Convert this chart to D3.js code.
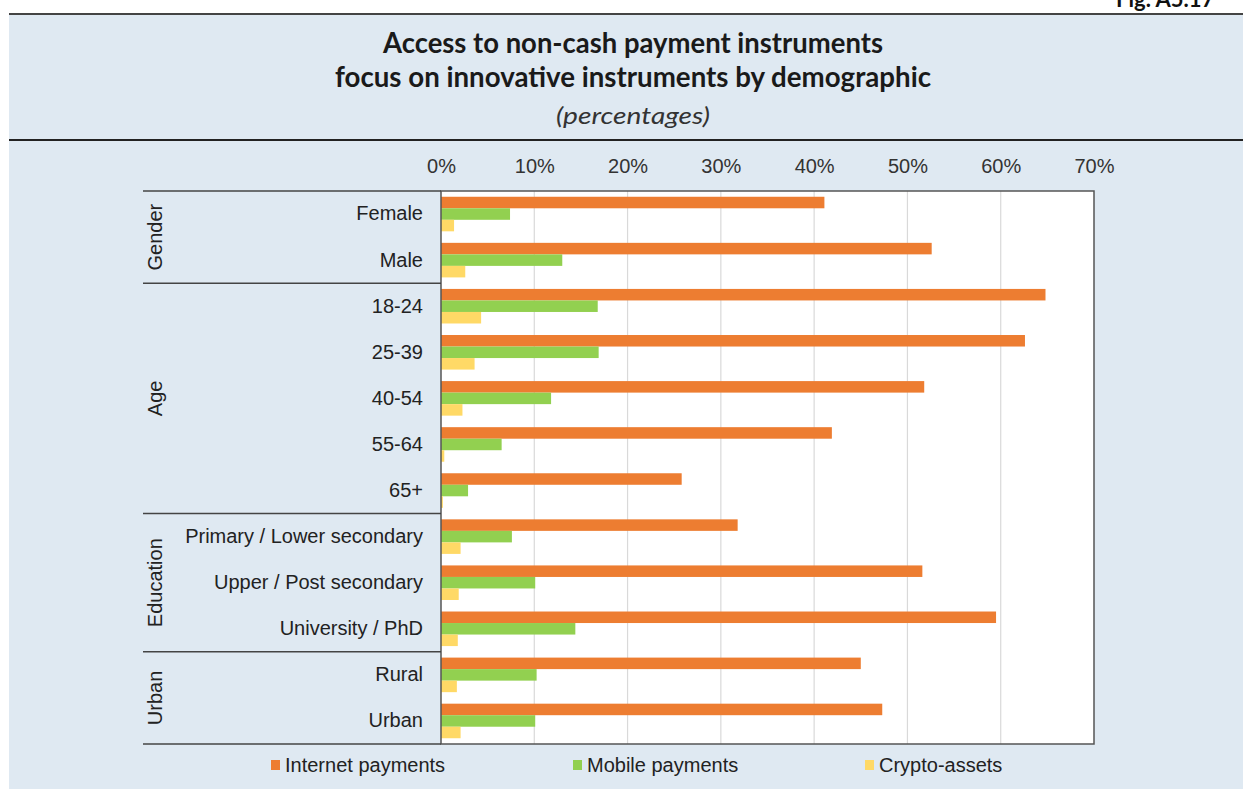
<!DOCTYPE html>
<html>
<head>
<meta charset="utf-8">
<script src="https://cdn.jsdelivr.net/npm/d3@7"></script>
<style>
  html, body { margin: 0; padding: 0; background: #ffffff; }
  svg { display: block; }
</style>
</head>
<body>
<svg id="chart" width="1243" height="789"></svg>
<script>
const categories = ["Female", "Male", "18-24", "25-39", "40-54", "55-64", "65+",
  "Primary / Lower secondary", "Upper / Post secondary", "University / PhD", "Rural", "Urban"];
const groups = [
  { name: "Gender", members: ["Female", "Male"] },
  { name: "Age", members: ["18-24", "25-39", "40-54", "55-64", "65+"] },
  { name: "Education", members: ["Primary / Lower secondary", "Upper / Post secondary", "University / PhD"] },
  { name: "Urban", members: ["Rural", "Urban"] }
];
const seriesNames = ["Internet payments", "Mobile payments", "Crypto-assets"];
const internetPayments = [41.1, 52.6, 64.8, 62.6, 51.8, 41.9, 25.8, 31.8, 51.6, 59.5, 45.0, 47.3];
const mobilePayments   = [7.4, 13.0, 16.8, 16.9, 11.8, 6.5, 2.9, 7.6, 10.1, 14.4, 10.25, 10.1];
const cryptoAssets     = [1.4, 2.6, 4.3, 3.6, 2.3, 0.35, 0.2, 2.1, 1.9, 1.8, 1.7, 2.1];
const xTicks = [0, 10, 20, 30, 40, 50, 60, 70];
const titleLines = ["Access to non-cash payment instruments", "focus on innovative instruments by demographic"];
const subtitle = "(percentages)";
const colors = ["#ED7D31", "#92D050", "#FFD966"];

(function () {
const svg = d3.select("#chart");
const W = 1243, H = 789;
const sans = "'Liberation Sans', Arial, sans-serif";

// background panel
svg.append("rect").attr("x", 9).attr("y", 14).attr("width", W - 9).attr("height", H - 14).attr("fill", "#DFE9F2");
// partially visible figure label at very top
svg.append("text").attr("x", 1116).attr("y", 7).attr("font-family", "Lato, sans-serif")
  .attr("font-weight", "bold").attr("font-size", 22).attr("fill", "#111").text("Fig. A5.17");
svg.append("line").attr("x1", 9).attr("x2", W).attr("y1", 14).attr("y2", 14).attr("stroke", "#444").attr("stroke-width", 2);
svg.append("line").attr("x1", 9).attr("x2", W).attr("y1", 140).attr("y2", 140).attr("stroke", "#222").attr("stroke-width", 2);

// titles
const titleLens = [500, 596];
titleLines.forEach((t, i) => {
  svg.append("text").attr("x", 633).attr("y", 53 + i * 34).attr("text-anchor", "middle")
    .attr("font-family", "Lato, 'Open Sans', sans-serif")
    .attr("font-weight", "bold").attr("font-size", 28).attr("fill", "#1a1a1a")
    .attr("textLength", titleLens[i]).attr("lengthAdjust", "spacingAndGlyphs").text(t);
});
svg.append("text").attr("x", 633).attr("y", 124).attr("text-anchor", "middle")
  .attr("font-family", "Lato, 'Open Sans', sans-serif")
  .attr("font-style", "italic").attr("font-size", 24).attr("fill", "#333")
  .attr("textLength", 154).attr("lengthAdjust", "spacingAndGlyphs").text(subtitle);

// plot geometry
const pL = 441, pR = 1094, pT = 191, pB = 744;
const x = d3.scaleLinear().domain([0, 70]).range([pL, pR]);
const y = d3.scaleBand().domain(categories).range([pT, pB]).paddingInner(0.25).paddingOuter(0.125);
const ySub = d3.scaleBand().domain(seriesNames).range([0, y.bandwidth()]);

svg.append("rect").attr("x", pL).attr("y", pT).attr("width", pR - pL).attr("height", pB - pT).attr("fill", "#ffffff");

// gridlines
svg.append("g").selectAll("line").data(xTicks.filter(d => d > 0 && d < 70)).join("line")
  .attr("x1", d => x(d)).attr("x2", d => x(d)).attr("y1", pT).attr("y2", pB)
  .attr("stroke", "#D9D9D9").attr("stroke-width", 1.2);

// x axis on top
const xAxis = svg.append("g").attr("transform", `translate(0,${pT})`)
  .call(d3.axisTop(x).tickValues(xTicks).tickFormat(d => d + "%").tickSize(0).tickPadding(18));
xAxis.select(".domain").remove();
xAxis.selectAll("text").attr("font-family", sans).attr("font-size", 20).attr("fill", "#333");

// bars
const values = [internetPayments, mobilePayments, cryptoAssets];
seriesNames.forEach((s, si) => {
  svg.append("g").selectAll("rect").data(categories.map((c, i) => ({ c, v: values[si][i] }))).join("rect")
    .attr("x", x(0)).attr("y", d => y(d.c) + ySub(s))
    .attr("width", d => x(d.v) - x(0)).attr("height", ySub.bandwidth())
    .attr("fill", colors[si]);
});

// category labels
const yAxis = svg.append("g").attr("transform", `translate(${pL},0)`)
  .call(d3.axisLeft(y).tickSize(0).tickPadding(18));
yAxis.select(".domain").remove();
yAxis.selectAll("text").attr("font-family", sans).attr("font-size", 20).attr("fill", "#222");

// plot border
svg.append("rect").attr("x", pL).attr("y", pT).attr("width", pR - pL).attr("height", pB - pT)
  .attr("fill", "none").attr("stroke", "#555").attr("stroke-width", 1.5);

// group separators and labels
const step = y.step();
const groupBounds = groups.map(g => {
  const i0 = categories.indexOf(g.members[0]);
  const i1 = categories.indexOf(g.members[g.members.length - 1]);
  return { name: g.name, y0: pT + i0 * step, y1: pT + (i1 + 1) * step };
});
const sepYs = [pT].concat(groupBounds.map(g => g.y1));
svg.append("g").selectAll("line").data(sepYs).join("line")
  .attr("x1", 143).attr("x2", pL).attr("y1", d => d).attr("y2", d => d)
  .attr("stroke", "#444").attr("stroke-width", 1.5);
svg.append("g").selectAll("text").data(groupBounds).join("text")
  .attr("transform", d => `translate(162,${(d.y0 + d.y1) / 2}) rotate(-90)`)
  .attr("text-anchor", "middle")
  .attr("font-family", sans).attr("font-size", 20).attr("fill", "#222")
  .text(d => d.name);

// legend
const legendX = [271, 573, 865];
const lg = svg.append("g").selectAll("g").data(seriesNames).join("g")
  .attr("transform", (d, i) => `translate(${legendX[i]},765)`);
lg.append("rect").attr("x", 0).attr("y", -5).attr("width", 9).attr("height", 10).attr("fill", (d, i) => colors[i]);
lg.append("text").attr("x", 14).attr("y", 7)
  .attr("font-family", sans).attr("font-size", 20).attr("fill", "#222")
  .text(d => d);
})();
</script>
</body>
</html>
